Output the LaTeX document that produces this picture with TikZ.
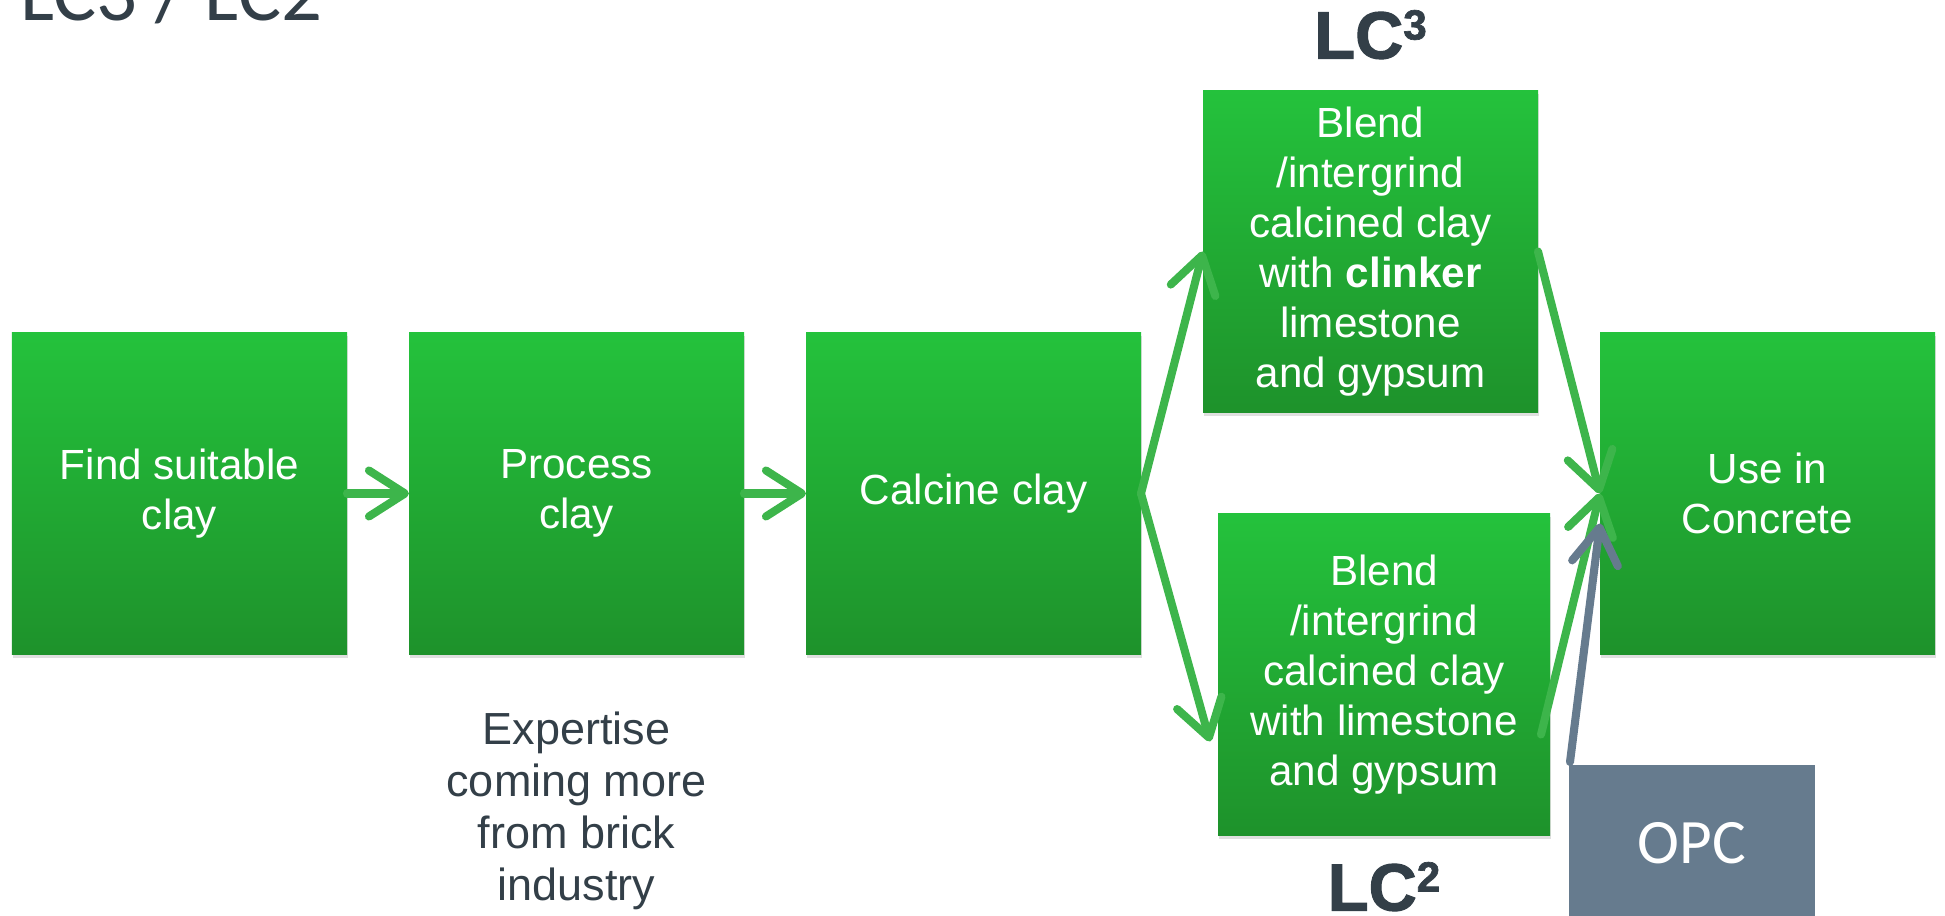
\documentclass[tikz,border=0pt]{standalone}
\usepackage{fontspec}
\setmainfont{Liberation Sans}
\newfontfamily\slidefont{Carlito}
\newfontfamily\heavyfont{Liberation Sans Bold}[FakeBold=1.6]
\usepackage{tikz}
\usetikzlibrary{arrows.meta,positioning,shadows,calc}

\definecolor{boxtop}{HTML}{24C23C}
\definecolor{boxbot}{HTML}{1E922B}
\definecolor{flowgreen}{HTML}{3DB54B}
\definecolor{opcgrey}{HTML}{667B8E}
\definecolor{darktext}{HTML}{333F48}

\newcommand{\lcpower}[1]{\raisebox{5.4pt}{\fontsize{12}{12}\selectfont #1}}

\begin{document}
\begin{tikzpicture}[->, >={Straight Barb[length=3.6mm,width=4.6mm,round]}, line width=2.3pt, node distance=0.62cm]
	\tikzstyle{procbox}=[rectangle, top color=boxtop, bottom color=boxbot, text=white, align=center,
		minimum width=3.35cm, minimum height=3.22cm, inner sep=0pt, outer sep=0pt, font=\fontsize{12}{14.2}\selectfont,
		drop shadow={shadow xshift=0.01cm, shadow yshift=-0.035cm, opacity=0.25}]
	\tikzstyle{flow}=[draw=flowgreen, line cap=round]
	\tikzstyle{opcflow}=[draw=opcgrey, line cap=round]
	\tikzstyle{lclabel}=[text=darktext, inner sep=0pt, outer sep=0pt, anchor=base, font=\heavyfont\fontsize{19}{21}\selectfont]
	\useasboundingbox (0,0) rectangle (19.45,9.16);

	\node[text=darktext, inner sep=0pt, anchor=base west, font=\slidefont\fontsize{23}{26}\selectfont] (title) at (0.16,8.95) {LC3 / LC2};

	\node[procbox]    (find)    at (1.795,4.225)       {Find suitable\\clay};
	\node[procbox]    (process) [right=of find]        {Process\\clay};
	\node[procbox]    (calcine) [right=of process]     {Calcine clay};
	\node[procbox]    (blendclk)[right=of calcine, yshift=2.42cm]
		{Blend\\/intergrind\\calcined clay\\with \textbf{clinker}\\limestone\\and gypsum};
	\node[procbox, minimum width=3.32cm] (blendlime)[right=0.77cm of calcine, yshift=-1.81cm]
		{Blend\\/intergrind\\calcined clay\\with limestone\\and gypsum};
	\node[procbox]    (concrete)[right=4.59cm of calcine] {Use in\\Concrete};
	\node[fill=opcgrey, text=white, minimum width=2.46cm, minimum height=1.56cm, anchor=north west, outer sep=0pt,
		font=\slidefont\fontsize{18}{20}\selectfont] (opc) at (15.69,1.51) {OPC};

	\node[lclabel] (lcthree) at ([yshift=0.32cm]blendclk.north) {LC\lcpower{3}};
	\node[lclabel] (lctwo)   at ([yshift=-0.75cm]blendlime.south) {LC\lcpower{2}};
	\node[text=darktext, inner sep=0pt, anchor=north, align=center, font=\fontsize{12.8}{14.8}\selectfont]
		(expert) [below=0.53cm of process] {Expertise\\coming more\\from brick\\industry};

	\coordinate (limein)  at ([shift={(-0.08,-0.67)}]blendlime.west);
	\coordinate (limeout) at ([shift={(-0.09,-0.6)}]blendlime.east);
	\coordinate (opcout)  at ([shift={(0.01,0.03)}]opc.north west);
	\coordinate (opcin)   at ([yshift=-0.3cm]concrete.west);

	\path
		(find)           edge[flow]    (process)
		(process)        edge[flow]    (calcine)
		(calcine.east)   edge[flow]    (blendclk.west)
		(calcine.east)   edge[flow]    (limein)
		(blendclk.east)  edge[flow]    (concrete.west)
		(limeout)        edge[flow]    (concrete.west)
		(opcout)         edge[opcflow] (opcin);
\end{tikzpicture}
\end{document}
